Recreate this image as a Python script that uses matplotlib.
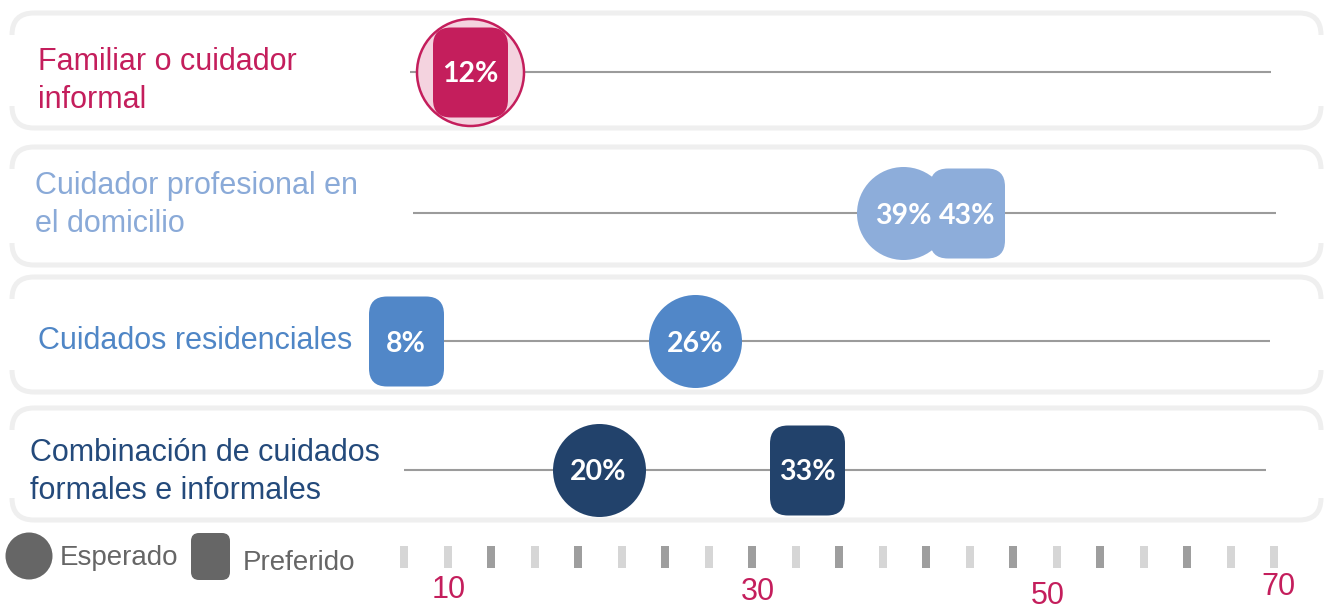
import matplotlib
matplotlib.use("Agg")
import matplotlib.pyplot as plt
import numpy as np
from matplotlib.patches import FancyBboxPatch, Rectangle, Circle, BoxStyle

plt.rcParams['font.family'] = ['Liberation Sans', 'DejaVu Sans']

# ---- data ----
categories = ["Familiar o cuidador\ninformal",
              "Cuidador profesional en\nel domicilio",
              "Cuidados residenciales",
              "Combinación de cuidados\nformales e informales"]
esperado = [12, 39, 26, 20]    # circle
preferido = [12, 43, 8, 33]    # rounded square
tick_labels = ["10", "30", "50", "70"]
legend_labels = ["Esperado", "Preferido"]

# ---- styles ----
fill_colors = ["#C41E5C", "#8DADDA", "#5187C8", "#22426B"]
text_colors = ["#C41E5C", "#8AAAD8", "#4F86C6", "#244A7B"]
overlap_fill = "#F4D3DF"
guide_color = "#9B9B9B"
panel_edge = "#EFEFEF"
legend_color = "#666666"

W, H = 1331, 609
px = 0.72  # points per pixel at dpi 100

# layout (pixels)
row_y = [72, 213, 341, 470]
panel_top = [13, 147, 277, 408]
panel_bot = [128, 265, 392, 520]
panel_x0, panel_x1, radius = 12, 1321, 22
line_x0 = [410, 413, 405, 404]
line_x1 = [1271, 1276, 1270, 1266]
label_x = [38, 35, 38, 30]
label_y = [81, 205, 341, 472]
tick_px = np.linspace(404, 1274, 21)
tick_label_x = [449, 758, 1048, 1278]
tick_label_y = [590, 592, 596, 587]

fig = plt.figure(figsize=(W / 100, H / 100), dpi=100)

# pixel layer: panels, guide lines, labels, scale, legend
deco = fig.add_axes([0, 0, 1, 1], zorder=0)
deco.set_xlim(0, W)
deco.set_ylim(H, 0)
deco.axis("off")

# data layer: x in percent
ax = fig.add_axes([0, 0, 1, 1], zorder=1)
ax.set_xlim(-17.34, 65.69)
ax.set_ylim(H, 0)
ax.axis("off")

for i, cat in enumerate(categories):
    top, bot = panel_top[i], panel_bot[i]
    deco.add_patch(FancyBboxPatch((panel_x0, top), panel_x1 - panel_x0, bot - top,
                                  boxstyle=f"round,pad=0,rounding_size={radius}",
                                  fc="white", ec=panel_edge, lw=3.6))
    for x in (panel_x0, panel_x1):
        deco.add_patch(Rectangle((x - 6, top + radius), 12, bot - top - 2 * radius,
                                 fc="white", ec="none"))
    deco.plot([line_x0[i], line_x1[i]], [row_y[i], row_y[i]], color=guide_color,
              lw=1.5, solid_capstyle="butt")
    deco.text(label_x[i], label_y[i], cat, color=text_colors[i], fontsize=22,
              ha="left", va="center", linespacing=1.32)

# scale marks
for k, x in enumerate(tick_px):
    dark = (k % 2 == 0) and 0 < k < len(tick_px) - 1
    deco.add_patch(Rectangle((x - 4, 546), 8, 22, fc="#9E9E9E" if dark else "#D6D6D6",
                             ec="none"))
for lab, x, y in zip(tick_labels, tick_label_x, tick_label_y):
    deco.text(x, y, lab, color=fill_colors[0], fontsize=22, ha="center", va="center")

# legend
deco.add_patch(Circle((29, 556), 23.5, fc=legend_color, ec="none"))
deco.text(60, 558, legend_labels[0], color=legend_color, fontsize=20, ha="left", va="center")
deco.add_patch(FancyBboxPatch((191, 533), 39, 47, boxstyle="round,pad=0,rounding_size=8",
                              fc=legend_color, ec="none"))
deco.text(243, 563, legend_labels[1], color=legend_color, fontsize=20, ha="left", va="center")

# markers
square = BoxStyle.Round(pad=0, rounding_size=18)(-37.5, -45, 75, 90, 1.0)
lab_font = dict(color="white", fontsize=20.5, fontweight="bold", family=["Lato", "DejaVu Sans"],
                ha="center", va="center_baseline")
for i in range(len(categories)):
    e, p = esperado[i], preferido[i]
    if e == p:
        ax.scatter(e, row_y[i], s=(107 * px) ** 2, marker="o", fc=overlap_fill,
                   ec=fill_colors[i], lw=1.8, zorder=2)
    else:
        ax.scatter(e, row_y[i], s=(93 * px) ** 2, marker="o", fc=fill_colors[i],
                   lw=0, zorder=2)
        ax.text(e, row_y[i], f"{e}%", zorder=4, **lab_font)
    ax.scatter(p, row_y[i], s=(90 * px) ** 2, marker=square, fc=fill_colors[i],
               lw=0, zorder=3)
    ax.text(p, row_y[i], f"{p}%", zorder=4, **lab_font)

fig.savefig("out.png", dpi=100)
